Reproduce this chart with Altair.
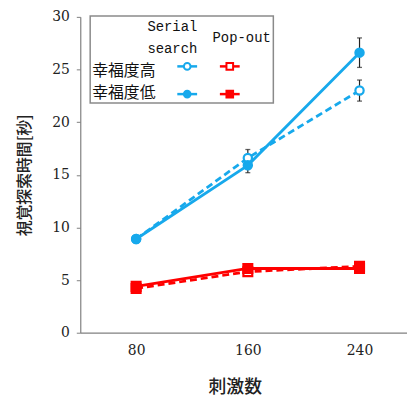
import altair as alt
import pandas as pd

stimuli = [80, 160, 240]
serial_high = [8.9, 16.6, 23.0]
serial_high_err = [0.3, 0.8, 1.0]
serial_low = [8.9, 15.9, 26.6]
serial_low_err = [0.3, 0.7, 1.4]
popout_high = [4.2, 5.8, 6.3]
popout_high_err = [0.15, 0.15, 0.15]
popout_low = [4.4, 6.1, 6.1]
popout_low_err = [0.15, 0.15, 0.15]

y_ticks = [0, 5, 10, 15, 20, 25, 30]
x_title = "刺激数"
y_title = "視覚探索時間[秒]"
row_labels = ["幸福度高", "幸福度低"]
col_labels = [["Serial", "search"], ["Pop-out"]]

BLUE = "#17a9ec"
RED = "#ff0000"
CJK = "Noto Sans CJK JP"
SERIF = "DejaVu Serif"
MONO = "Liberation Mono"

xs = alt.Scale(domain=[40, 274], nice=False, zero=False)
ys = alt.Scale(domain=[0, 30], nice=False)

x_axis = alt.Axis(values=stimuli, labelFont=SERIF, labelFontSize=14, ticks=False,
                  labelPadding=11, titleFont=CJK, titleFontSize=18, titleFontWeight=500,
                  titleX=156, titleY=55, titleAlign="center", titleBaseline="middle")
y_axis = alt.Axis(values=y_ticks, labelFont=SERIF, labelFontSize=14, tickSize=4,
                  labelPadding=7, titleFont=CJK, titleFontSize=16, titleFontWeight=500,
                  titleX=-56, titleAngle=270, titleAlign="center", titleBaseline="middle")


def frame(vals, errs):
    return pd.DataFrame({
        "n": stimuli,
        "v": vals,
        "lo": [v - e for v, e in zip(vals, errs)],
        "hi": [v + e for v, e in zip(vals, errs)],
    })


def series(vals, errs, color, shape, dashed, filled, size, with_axis):
    d = frame(vals, errs)
    base = alt.Chart(d)
    if with_axis:
        x = alt.X("n:Q", scale=xs, title=x_title, axis=x_axis)
        y = alt.Y("v:Q", scale=ys, title=y_title, axis=y_axis)
    else:
        x = alt.X("n:Q", scale=xs, title=x_title)
        y = alt.Y("v:Q", scale=ys, title=y_title)
    err = base.mark_rule(color="#222", strokeWidth=1.2).encode(
        x=x, y=alt.Y("lo:Q", scale=ys, title=y_title), y2="hi:Q")
    cap_lo = base.mark_tick(color="#222", orient="horizontal", size=5, thickness=1.3).encode(
        x=x, y=alt.Y("lo:Q", scale=ys, title=y_title))
    cap_hi = base.mark_tick(color="#222", orient="horizontal", size=5, thickness=1.3).encode(
        x=x, y=alt.Y("hi:Q", scale=ys, title=y_title))
    line_kw = dict(color=color, strokeWidth=2.8)
    if dashed:
        line_kw["strokeDash"] = [7, 4]
    line = base.mark_line(**line_kw).encode(x=x, y=y)
    pt = base.mark_point(shape=shape, size=size, filled=True,
                         fill=(color if filled else "white"), stroke=color,
                         strokeWidth=2.2, opacity=1).encode(x=x, y=y)
    return [err, cap_lo, cap_hi], [line], [pt]


specs = [
    (popout_high, popout_high_err, RED, "square", True, False, 80),
    (popout_low, popout_low_err, RED, "square", False, True, 80),
    (serial_high, serial_high_err, BLUE, "circle", True, False, 70),
    (serial_low, serial_low_err, BLUE, "circle", False, True, 70),
]
errs_l, lines_l, pts_l = [], [], []
for i, s in enumerate(specs):
    e, l, p = series(*s, with_axis=(i == 0))
    errs_l += e
    lines_l += l
    pts_l += p

# legend
one = alt.Chart(pd.DataFrame({"a": [0]}))
leg = [
    one.mark_rect(fill="white", stroke="#8a8a8a", strokeWidth=1.5).encode(
        x=alt.value(10), x2=alt.value(195), y=alt.value(-1), y2=alt.value(87)),
    one.mark_text(font=MONO, fontSize=14, color="#111").encode(
        x=alt.value(93), y=alt.value(10), text=alt.value(col_labels[0][0])),
    one.mark_text(font=MONO, fontSize=14, color="#111").encode(
        x=alt.value(93), y=alt.value(32), text=alt.value(col_labels[0][1])),
    one.mark_text(font=MONO, fontSize=14, color="#111").encode(
        x=alt.value(163), y=alt.value(21), text=alt.value(col_labels[1][0])),
    one.mark_text(font=CJK, fontSize=16, color="#111", align="left").encode(
        x=alt.value(12), y=alt.value(55), text=alt.value(row_labels[0])),
    one.mark_text(font=CJK, fontSize=16, color="#111", align="left").encode(
        x=alt.value(12), y=alt.value(77), text=alt.value(row_labels[1])),
]
for cx, color, shape in [(108, BLUE, "circle"), (151, RED, "square")]:
    for cy, filled in [(50, False), (78, True)]:
        leg.append(one.mark_rule(color=color, strokeWidth=2.5).encode(
            x=alt.value(cx - 10), x2=alt.value(cx + 10), y=alt.value(cy)))
        leg.append(one.mark_point(shape=shape, size=45, filled=True,
                                  fill=(color if filled else "white"), stroke=color,
                                  strokeWidth=2, opacity=1).encode(
            x=alt.value(cx), y=alt.value(cy)))

chart = alt.layer(*(errs_l + lines_l + pts_l + leg)).properties(
    width=330, height=319,
    padding={"left": 73, "top": 7, "right": 0, "bottom": 66},
    autosize="none",
).configure_view(stroke=None).configure_axis(
    grid=False, domainColor="#808080", domainWidth=1.2, tickColor="#808080",
    labelColor="#222", titleColor="#222",
)

chart.save("out.html", embed_options={"renderer": "svg", "actions": False})
